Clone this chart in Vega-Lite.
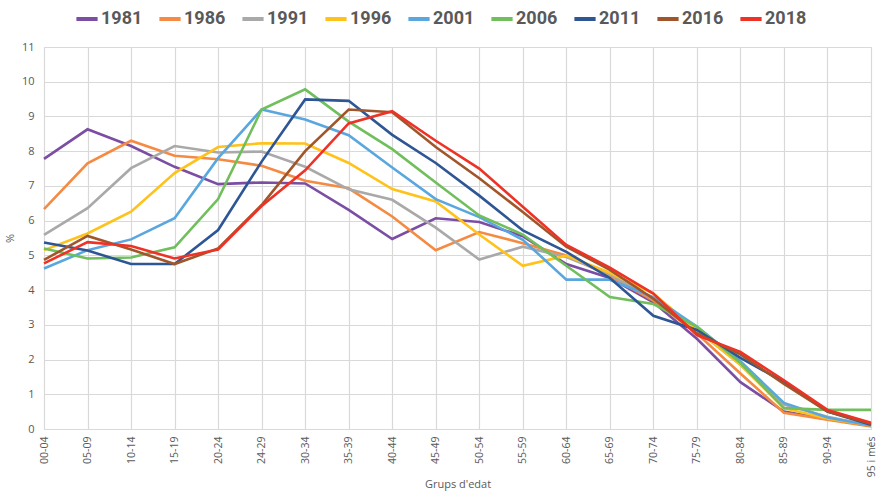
{
  "$schema": "https://vega.github.io/schema/vega-lite/v6.json",
  "width": 827,
  "height": 382,
  "autosize": "none",
  "padding": {"left": 44, "top": 47, "right": 8, "bottom": 62},
  "background": "white",
  "data": {
    "values": [
      {"g":"00-04","s":"1981","v":7.78},{"g":"05-09","s":"1981","v":8.63},{"g":"10-14","s":"1981","v":8.15},{"g":"15-19","s":"1981","v":7.55},{"g":"20-24","s":"1981","v":7.05},{"g":"24-29","s":"1981","v":7.1},{"g":"30-34","s":"1981","v":7.07},{"g":"35-39","s":"1981","v":6.31},{"g":"40-44","s":"1981","v":5.47},{"g":"45-49","s":"1981","v":6.07},{"g":"50-54","s":"1981","v":5.96},{"g":"55-59","s":"1981","v":5.55},{"g":"60-64","s":"1981","v":4.75},{"g":"65-69","s":"1981","v":4.35},{"g":"70-74","s":"1981","v":3.65},{"g":"75-79","s":"1981","v":2.6},{"g":"80-84","s":"1981","v":1.35},{"g":"85-89","s":"1981","v":0.5},{"g":"90-94","s":"1981","v":0.28},{"g":"95 i més","s":"1981","v":0.12},
      {"g":"00-04","s":"1986","v":6.33},{"g":"05-09","s":"1986","v":7.65},{"g":"10-14","s":"1986","v":8.3},{"g":"15-19","s":"1986","v":7.87},{"g":"20-24","s":"1986","v":7.77},{"g":"24-29","s":"1986","v":7.58},{"g":"30-34","s":"1986","v":7.15},{"g":"35-39","s":"1986","v":6.93},{"g":"40-44","s":"1986","v":6.12},{"g":"45-49","s":"1986","v":5.15},{"g":"50-54","s":"1986","v":5.67},{"g":"55-59","s":"1986","v":5.35},{"g":"60-64","s":"1986","v":5.0},{"g":"65-69","s":"1986","v":4.4},{"g":"70-74","s":"1986","v":3.7},{"g":"75-79","s":"1986","v":2.75},{"g":"80-84","s":"1986","v":1.6},{"g":"85-89","s":"1986","v":0.47},{"g":"90-94","s":"1986","v":0.27},{"g":"95 i més","s":"1986","v":0.07},
      {"g":"00-04","s":"1991","v":5.59},{"g":"05-09","s":"1991","v":6.36},{"g":"10-14","s":"1991","v":7.51},{"g":"15-19","s":"1991","v":8.15},{"g":"20-24","s":"1991","v":7.96},{"g":"24-29","s":"1991","v":7.99},{"g":"30-34","s":"1991","v":7.55},{"g":"35-39","s":"1991","v":6.9},{"g":"40-44","s":"1991","v":6.6},{"g":"45-49","s":"1991","v":5.8},{"g":"50-54","s":"1991","v":4.88},{"g":"55-59","s":"1991","v":5.25},{"g":"60-64","s":"1991","v":4.95},{"g":"65-69","s":"1991","v":4.45},{"g":"70-74","s":"1991","v":3.75},{"g":"75-79","s":"1991","v":2.85},{"g":"80-84","s":"1991","v":1.85},{"g":"85-89","s":"1991","v":0.7},{"g":"90-94","s":"1991","v":0.35},{"g":"95 i més","s":"1991","v":0.1},
      {"g":"00-04","s":"1996","v":5.15},{"g":"05-09","s":"1996","v":5.63},{"g":"10-14","s":"1996","v":6.26},{"g":"15-19","s":"1996","v":7.37},{"g":"20-24","s":"1996","v":8.12},{"g":"24-29","s":"1996","v":8.23},{"g":"30-34","s":"1996","v":8.22},{"g":"35-39","s":"1996","v":7.66},{"g":"40-44","s":"1996","v":6.91},{"g":"45-49","s":"1996","v":6.55},{"g":"50-54","s":"1996","v":5.6},{"g":"55-59","s":"1996","v":4.7},{"g":"60-64","s":"1996","v":4.99},{"g":"65-69","s":"1996","v":4.5},{"g":"70-74","s":"1996","v":3.9},{"g":"75-79","s":"1996","v":2.85},{"g":"80-84","s":"1996","v":1.85},{"g":"85-89","s":"1996","v":0.6},{"g":"90-94","s":"1996","v":0.3},{"g":"95 i més","s":"1996","v":0.1},
      {"g":"00-04","s":"2001","v":4.62},{"g":"05-09","s":"2001","v":5.15},{"g":"10-14","s":"2001","v":5.46},{"g":"15-19","s":"2001","v":6.07},{"g":"20-24","s":"2001","v":7.8},{"g":"24-29","s":"2001","v":9.2},{"g":"30-34","s":"2001","v":8.91},{"g":"35-39","s":"2001","v":8.46},{"g":"40-44","s":"2001","v":7.53},{"g":"45-49","s":"2001","v":6.62},{"g":"50-54","s":"2001","v":6.1},{"g":"55-59","s":"2001","v":5.45},{"g":"60-64","s":"2001","v":4.3},{"g":"65-69","s":"2001","v":4.3},{"g":"70-74","s":"2001","v":3.8},{"g":"75-79","s":"2001","v":2.95},{"g":"80-84","s":"2001","v":1.95},{"g":"85-89","s":"2001","v":0.75},{"g":"90-94","s":"2001","v":0.33},{"g":"95 i més","s":"2001","v":0.1},
      {"g":"00-04","s":"2006","v":5.2},{"g":"05-09","s":"2006","v":4.91},{"g":"10-14","s":"2006","v":4.94},{"g":"15-19","s":"2006","v":5.23},{"g":"20-24","s":"2006","v":6.62},{"g":"24-29","s":"2006","v":9.2},{"g":"30-34","s":"2006","v":9.78},{"g":"35-39","s":"2006","v":8.85},{"g":"40-44","s":"2006","v":8.06},{"g":"45-49","s":"2006","v":7.1},{"g":"50-54","s":"2006","v":6.15},{"g":"55-59","s":"2006","v":5.6},{"g":"60-64","s":"2006","v":4.7},{"g":"65-69","s":"2006","v":3.8},{"g":"70-74","s":"2006","v":3.6},{"g":"75-79","s":"2006","v":2.95},{"g":"80-84","s":"2006","v":1.9},{"g":"85-89","s":"2006","v":0.6},{"g":"90-94","s":"2006","v":0.55},{"g":"95 i més","s":"2006","v":0.55},
      {"g":"00-04","s":"2011","v":5.37},{"g":"05-09","s":"2011","v":5.14},{"g":"10-14","s":"2011","v":4.75},{"g":"15-19","s":"2011","v":4.75},{"g":"20-24","s":"2011","v":5.73},{"g":"24-29","s":"2011","v":7.7},{"g":"30-34","s":"2011","v":9.49},{"g":"35-39","s":"2011","v":9.45},{"g":"40-44","s":"2011","v":8.47},{"g":"45-49","s":"2011","v":7.66},{"g":"50-54","s":"2011","v":6.72},{"g":"55-59","s":"2011","v":5.72},{"g":"60-64","s":"2011","v":5.1},{"g":"65-69","s":"2011","v":4.35},{"g":"70-74","s":"2011","v":3.26},{"g":"75-79","s":"2011","v":2.85},{"g":"80-84","s":"2011","v":2.05},{"g":"85-89","s":"2011","v":1.35},{"g":"90-94","s":"2011","v":0.5},{"g":"95 i més","s":"2011","v":0.12},
      {"g":"00-04","s":"2016","v":4.87},{"g":"05-09","s":"2016","v":5.56},{"g":"10-14","s":"2016","v":5.17},{"g":"15-19","s":"2016","v":4.75},{"g":"20-24","s":"2016","v":5.2},{"g":"24-29","s":"2016","v":6.45},{"g":"30-34","s":"2016","v":8.0},{"g":"35-39","s":"2016","v":9.2},{"g":"40-44","s":"2016","v":9.12},{"g":"45-49","s":"2016","v":8.12},{"g":"50-54","s":"2016","v":7.22},{"g":"55-59","s":"2016","v":6.25},{"g":"60-64","s":"2016","v":5.25},{"g":"65-69","s":"2016","v":4.58},{"g":"70-74","s":"2016","v":3.75},{"g":"75-79","s":"2016","v":2.75},{"g":"80-84","s":"2016","v":2.15},{"g":"85-89","s":"2016","v":1.3},{"g":"90-94","s":"2016","v":0.5},{"g":"95 i més","s":"2016","v":0.15},
      {"g":"00-04","s":"2018","v":4.77},{"g":"05-09","s":"2018","v":5.38},{"g":"10-14","s":"2018","v":5.27},{"g":"15-19","s":"2018","v":4.91},{"g":"20-24","s":"2018","v":5.17},{"g":"24-29","s":"2018","v":6.42},{"g":"30-34","s":"2018","v":7.45},{"g":"35-39","s":"2018","v":8.8},{"g":"40-44","s":"2018","v":9.15},{"g":"45-49","s":"2018","v":8.3},{"g":"50-54","s":"2018","v":7.5},{"g":"55-59","s":"2018","v":6.4},{"g":"60-64","s":"2018","v":5.3},{"g":"65-69","s":"2018","v":4.65},{"g":"70-74","s":"2018","v":3.9},{"g":"75-79","s":"2018","v":2.7},{"g":"80-84","s":"2018","v":2.22},{"g":"85-89","s":"2018","v":1.4},{"g":"90-94","s":"2018","v":0.55},{"g":"95 i més","s":"2018","v":0.18}
    ]
  },
  "mark": {"type": "line", "strokeWidth": 2.6, "strokeJoin": "miter"},
  "encoding": {
    "x": {
      "field": "g", "type": "ordinal",
      "sort": ["00-04","05-09","10-14","15-19","20-24","24-29","30-34","35-39","40-44","45-49","50-54","55-59","60-64","65-69","70-74","75-79","80-84","85-89","90-94","95 i més"],
      "scale": {"type": "point", "padding": 0},
      "axis": {
        "title": "Grups d'edat", "titleFont": "Open Sans", "titleFontSize": 11, "titleFontWeight": "normal", "titleColor": "#595959",
        "titleY": 55, "titleBaseline": "middle",
        "labelAngle": -90, "labelFont": "Open Sans", "labelFontSize": 10.5, "labelColor": "#595959", "labelPadding": 7,
        "domain": false, "ticks": false, "grid": true, "gridColor": "#D9D9D9", "gridWidth": 1.2
      }
    },
    "y": {
      "field": "v", "type": "quantitative",
      "scale": {"domain": [0, 11], "nice": false},
      "axis": {
        "title": "%", "titleFont": "Open Sans", "titleFontSize": 11, "titleFontWeight": "normal", "titleColor": "#595959", "titleAngle": -90,
        "titleX": -34, "titleBaseline": "middle",
        "values": [0,1,2,3,4,5,6,7,8,9,10,11],
        "labelFont": "Open Sans", "labelFontSize": 11, "labelColor": "#595959", "labelPadding": 10,
        "domain": false, "ticks": false, "grid": true, "gridColor": "#D9D9D9", "gridWidth": 1.2
      }
    },
    "color": {
      "field": "s", "type": "nominal",
      "scale": {
        "domain": ["1981","1986","1991","1996","2001","2006","2011","2016","2018"],
        "range": ["#7B4EA3","#F58A42","#A9A9A9","#FFC21A","#5AA7DF","#70BF5C","#2E5594","#A0562A","#EE3226"]
      },
      "legend": {
        "orient": "none", "legendX": 30, "legendY": -41, "direction": "horizontal", "columns": 9,
        "title": null, "symbolType": "stroke", "symbolStrokeWidth": 4, "symbolSize": 450,
        "labelFont": "Roboto", "labelFontSize": 18, "labelFontWeight": "bold", "labelColor": "#595959",
        "columnPadding": 8, "labelOffset": 1
      }
    }
  }
}
